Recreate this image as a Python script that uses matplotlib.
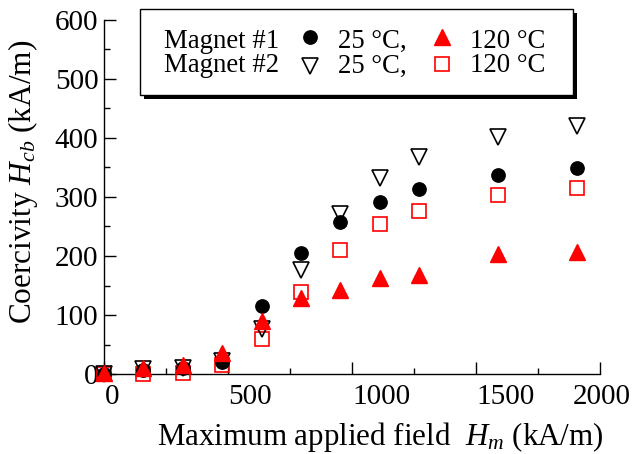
import matplotlib
matplotlib.use('Agg')
import matplotlib.pyplot as plt
from matplotlib.lines import Line2D
from matplotlib.patches import Rectangle
from matplotlib.transforms import ScaledTranslation
from matplotlib.ticker import MultipleLocator

plt.rcParams['font.family'] = ['Liberation Serif', 'DejaVu Serif']
plt.rcParams['mathtext.fontset'] = 'custom'
plt.rcParams['mathtext.rm'] = 'Liberation Serif'
plt.rcParams['mathtext.it'] = 'Liberation Serif:italic'

# ---- data ----
hm = [0, 158, 317, 477, 636, 794, 953, 1111, 1271, 1589, 1906]
m1_25 = [0, 7, 10, 20, 116, 205, 257, 292, 314, 338, 349]
m2_25 = [0, 8, 11, 22, 76, 176, 272, 332, 367, 402, 420]
m1_120 = [2, 11, 15, 35, 89, 128, 143, 163, 168, 203, 207]
m2_120 = [0, 0, 1, 15, 59, 139, 210, 254, 276, 303, 316]

x_ticks = [0, 500, 1000, 1500, 2000]
x_tick_labels = ['0', '500', '1000', '1500', '2000']
x_label_shift_px = [7.7, 22, 29.8, 29.3, 1.5]
y_ticks = [0, 100, 200, 300, 400, 500, 600]
y_tick_labels = ['0', '100', '200', '300', '400', '500', '600']

W, H = 632, 454
fig = plt.figure(figsize=(W / 100, H / 100), dpi=100)
ax = fig.add_axes([104 / W, 80 / H, 496 / W, 354 / H])

red = '#ff0000'
ax.plot(hm, m2_120, 's', ms=9.8, mfc='none', mec=red, mew=1.2, clip_on=False, zorder=3)
ax.plot(hm, m2_25, 'v', ms=11.5, mfc='none', mec='black', mew=1.2, clip_on=False, zorder=4)
ax.plot(hm, m1_25, 'o', ms=9.6, mfc='black', mec='black', clip_on=False, zorder=5)
ax.plot(hm, m1_120, '^', ms=12, mfc=red, mec=red, clip_on=False, zorder=6)

ax.set_xlim(0, 2000)
ax.set_ylim(0, 600)
for s in ['top', 'right']:
    ax.spines[s].set_visible(False)
for s in ['left', 'bottom']:
    ax.spines[s].set_linewidth(1.0)

ax.set_xticks(x_ticks, labels=x_tick_labels)
ax.set_yticks(y_ticks, labels=y_tick_labels)
ax.xaxis.set_minor_locator(MultipleLocator(250))
ax.yaxis.set_minor_locator(MultipleLocator(50))
ax.tick_params(which='major', direction='in', length=8.6, width=1.0, labelsize=21)
ax.tick_params(axis='x', which='major', pad=7)
ax.tick_params(axis='y', which='major', pad=4)
ax.tick_params(which='minor', direction='in', length=4.3, width=1.0)

for tick, dx in zip(ax.xaxis.get_major_ticks(), x_label_shift_px):
    lbl = tick.label1
    lbl.set_transform(lbl.get_transform() + ScaledTranslation(dx / 100, 0, fig.dpi_scale_trans))

ax.set_xlabel(r'Maximum applied field  $H_m$ (kA/m)', fontsize=22.3)
ax.xaxis.set_label_coords((380 - 104) / 496, (374 - 445) / 354)
ax.xaxis.label.set_va('baseline')
ax.set_ylabel(r'Coercivity $H_{cb}$ (kA/m)', fontsize=22.5)
ax.yaxis.set_label_coords((23 - 104) / 496, (374 - 182) / 354)
ax.yaxis.label.set_va('center')
ax.yaxis.label.set_ha('center')
ax.yaxis.label.set_rotation_mode('anchor')

# ---- legend (drawn manually) ----
def fx(x):
    return x / W

def fy(y):
    return 1 - y / H

bx0, by0, bx1, by1 = 140, 8.5, 573, 95
sh = 4
fig.add_artist(Rectangle((fx(bx0 + sh), fy(by1 + sh)), (bx1 - bx0) / W, (by1 - by0) / H,
                         transform=fig.transFigure, facecolor='black', edgecolor='black', lw=0, zorder=10))
fig.add_artist(Rectangle((fx(bx0), fy(by1)), (bx1 - bx0) / W, (by1 - by0) / H,
                         transform=fig.transFigure, facecolor='white', edgecolor='black', lw=1.0, zorder=11))

lfs = 19.3
rows = [47.5, 72.5]
fig.text(fx(164), fy(rows[0]), 'Magnet #1', fontsize=lfs, ha='left', va='baseline', zorder=12)
fig.text(fx(164), fy(rows[1]), 'Magnet #2', fontsize=lfs, ha='left', va='baseline', zorder=12)
for r in rows:
    fig.text(fx(338), fy(r), '25 °C,', fontsize=lfs, ha='left', va='baseline', zorder=12)
    fig.text(fx(470), fy(r), '120 °C', fontsize=lfs, ha='left', va='baseline', zorder=12)

fig.add_artist(Line2D([fx(309.5)], [fy(37.3)], marker='o', ms=9.6, mfc='black', mec='black',
                      ls='none', transform=fig.transFigure, zorder=12))
fig.add_artist(Line2D([fx(310)], [fy(65.5)], marker='v', ms=11.5, mfc='none', mec='black', mew=1.2,
                      ls='none', transform=fig.transFigure, zorder=12))
fig.add_artist(Line2D([fx(442)], [fy(36.5)], marker='^', ms=12, mfc=red, mec=red,
                      ls='none', transform=fig.transFigure, zorder=12))
fig.add_artist(Line2D([fx(442)], [fy(64.3)], marker='s', ms=9.8, mfc='none', mec=red, mew=1.2,
                      ls='none', transform=fig.transFigure, zorder=12))

fig.savefig('out.png', dpi=100)
